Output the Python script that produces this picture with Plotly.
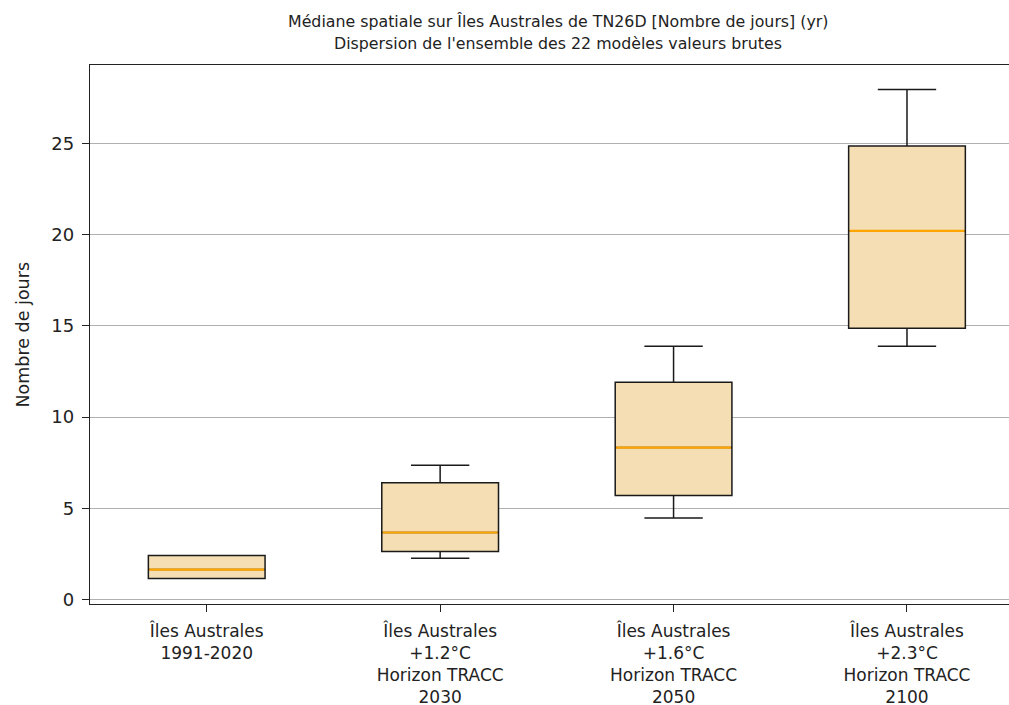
import plotly.graph_objects as go

# Ensemble statistics of TN26D (number of days) per horizon
categories = [
    "Îles Australes<br>1991-2020",
    "Îles Australes<br>+1.2°C<br>Horizon TRACC<br>2030",
    "Îles Australes<br>+1.6°C<br>Horizon TRACC<br>2050",
    "Îles Australes<br>+2.3°C<br>Horizon TRACC<br>2100",
]
positions = [1, 2, 3, 4]
whisker_low = [1.15, 2.26, 4.46, 13.89]
q1 = [1.15, 2.63, 5.70, 14.87]
median = [1.64, 3.67, 8.33, 20.21]
q3 = [2.41, 6.40, 11.91, 24.87]
whisker_high = [2.41, 7.36, 13.89, 27.96]
y_ticks = [0, 5, 10, 15, 20, 25]

BOX_WIDTH = 0.5
FONT = "DejaVu Sans"
INK = "#222222"

fig = go.Figure()

fig.add_trace(go.Box(
    x=positions,
    q1=q1,
    median=median,
    q3=q3,
    lowerfence=whisker_low,
    upperfence=whisker_high,
    width=BOX_WIDTH,
    whiskerwidth=0.5,
    fillcolor="#F5DEB3",
    line=dict(color="#1a1a1a", width=1.5),
    boxpoints=False,
    hoverinfo="skip",
    showlegend=False,
))

# orange median bars drawn over each box
mx, my = [], []
for p, m in zip(positions, median):
    mx += [p - BOX_WIDTH / 2 + 0.004, p + BOX_WIDTH / 2 - 0.004, None]
    my += [m, m, None]
fig.add_trace(go.Scatter(
    x=mx, y=my, mode="lines",
    line=dict(color="#FFA500", width=2.2),
    hoverinfo="skip", showlegend=False,
))

fig.update_layout(
    width=1009,
    height=705,
    margin=dict(l=90, r=0, t=65, b=101),
    plot_bgcolor="white",
    paper_bgcolor="white",
    font=dict(family=FONT, color=INK),
    annotations=[
        dict(text="Médiane spatiale sur Îles Australes de TN26D [Nombre de jours] (yr)",
             xref="paper", yref="paper", x=0.5, y=1, yshift=44, xshift=8,
             showarrow=False, font=dict(size=15.8, family=FONT, color=INK),
             xanchor="center", yanchor="middle"),
        dict(text="Dispersion de l'ensemble des 22 modèles valeurs brutes",
             xref="paper", yref="paper", x=0.5, y=1, yshift=22, xshift=8,
             showarrow=False, font=dict(size=15.8, family=FONT, color=INK),
             xanchor="center", yanchor="middle"),
        dict(text="Nombre de jours",
             xref="paper", yref="paper", x=0, y=0.5, xshift=-68,
             textangle=-90, showarrow=False,
             font=dict(size=17.5, family=FONT, color=INK),
             xanchor="center", yanchor="middle"),
    ],
)

fig.update_xaxes(
    range=[0.5, 4.437],
    tickmode="array",
    tickvals=positions,
    ticktext=categories,
    ticks="outside",
    ticklen=7,
    tickcolor=INK,
    tickfont=dict(size=17, family=FONT, color=INK),
    ticklabelstandoff=4,
    automargin=False,
    showline=True,
    linecolor=INK,
    linewidth=1.3,
    mirror=True,
    showgrid=False,
    zeroline=False,
)

fig.update_yaxes(
    range=[-0.25, 29.31],
    tickmode="array",
    tickvals=y_ticks,
    ticks="outside",
    ticklen=7,
    tickcolor=INK,
    tickfont=dict(size=18, family=FONT, color=INK),
    ticklabelstandoff=4,
    automargin=False,
    showline=True,
    linecolor=INK,
    linewidth=1.3,
    showgrid=True,
    gridcolor="#b0b0b0",
    gridwidth=1,
    zeroline=False,
)

fig.write_html("out.html")
